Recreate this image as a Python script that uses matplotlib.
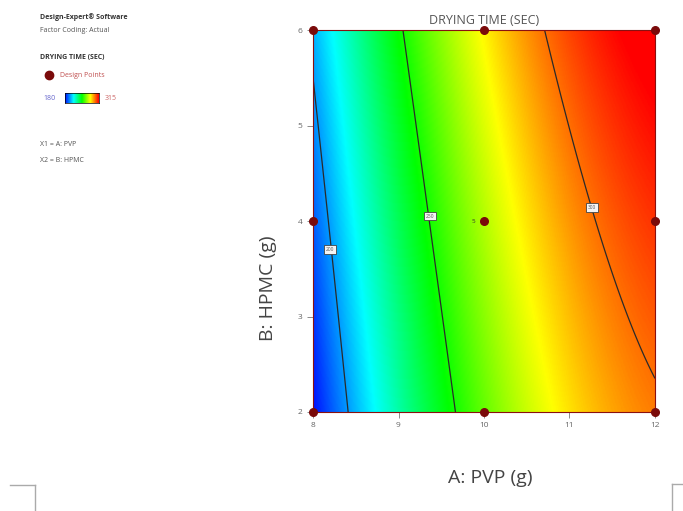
import numpy as np
import matplotlib
matplotlib.use("Agg")
import matplotlib.pyplot as plt
from matplotlib.colors import LinearSegmentedColormap, Normalize
from matplotlib.lines import Line2D

# ---- data ----
pvp_range = [8, 12]
hpmc_range = [2, 6]
x_ticks = [8, 9, 10, 11, 12]
y_ticks = [2, 3, 4, 5, 6]
# response surface coefficients (coded units): b0, A, B, AB, A^2, B^2
coef = [270.9, 58.5, 10.86, -0.68, -21.3, 0.43]
contour_levels = [200, 250, 300]
label_pos = [(8.2, 3.7), (9.37, 4.05), (11.26, 4.14)]
design_A = [8, 8, 8, 10, 10, 10, 12, 12, 12]
design_B = [2, 4, 6, 2, 4, 6, 2, 4, 6]
resp_min, resp_max = 180, 315

plt.rcParams['font.family'] = ['Open Sans', 'DejaVu Sans']

fig = plt.figure(figsize=(6.83, 5.11), dpi=100)
ax = fig.add_axes([313/683, 1-412/511, (655-313)/683, (412-30)/511])

A = np.linspace(pvp_range[0], pvp_range[1], 300)
B = np.linspace(hpmc_range[0], hpmc_range[1], 300)
AA, BB = np.meshgrid(A, B)
a = (AA - 10) / 2
b = (BB - 4) / 2
Y = (coef[0] + coef[1]*a + coef[2]*b + coef[3]*a*b + coef[4]*a**2 + coef[5]*b**2)

cmap = LinearSegmentedColormap.from_list(
    "de", ["#0010ff", "#00ffff", "#00ff00", "#ffff00", "#ff0000"])
norm = Normalize(resp_min, resp_max)
ax.imshow(np.clip(Y, resp_min, resp_max), origin='lower', extent=[8, 12, 2, 6],
          aspect='auto', cmap=cmap, norm=norm, interpolation='bilinear')
cs = ax.contour(AA, BB, Y, levels=contour_levels, colors='#2a2a2a', linewidths=0.9)
for lev, (px, py) in zip(contour_levels, label_pos):
    ax.text(px, py, str(lev), fontsize=3.5, color='#555555', ha='center', va='center',
            bbox=dict(boxstyle='square,pad=0.35', fc='#f4f4f4', ec='#444444', lw=0.6))

ax.scatter(design_A, design_B, s=30, color='#7a0a0a', zorder=5, clip_on=False)
ax.text(9.9, 4, "5", fontsize=4.5, color='#333333', ha='right', va='center')

ax.set_xlim(8, 12)
ax.set_ylim(2, 6)
ax.set_xticks(x_ticks)
ax.set_yticks(y_ticks)
ax.tick_params(labelsize=6, colors='#777777', length=4, width=0.6)
ax.set_xticklabels([str(t) for t in x_ticks], color='#666666')
ax.set_yticklabels([str(t) for t in y_ticks], color='#666666')
for s in ax.spines.values():
    s.set_color('#8a1010')
    s.set_linewidth(0.8)
ax.set_title("DRYING TIME (SEC)", fontsize=9, color='#555555', pad=4)

fig.text(490/683, 1-478/511, "A: PVP (g)", fontsize=14, color='#444444', ha='center', va='center')
fig.text(268/683, 1-288/511, "B: HPMC (g)", fontsize=14, color='#444444', ha='center', va='center',
         rotation=90)

# left annotation panel
fig.text(40/683, 1-17/511, "Design-Expert® Software", fontsize=5, weight='bold', color='#333333', va='center')
fig.text(40/683, 1-30/511, "Factor Coding: Actual", fontsize=5, color='#555555', va='center')
fig.text(40/683, 1-57/511, "DRYING TIME (SEC)", fontsize=5, weight='bold', color='#333333', va='center')
fig.add_artist(Line2D([49/683], [1-75/511], marker='o', markersize=6, color='#7a0a0a', linestyle='none'))
fig.text(60/683, 1-75/511, "Design Points", fontsize=5, color='#c05050', va='center')
fig.text(43/683, 1-98/511, str(resp_min), fontsize=5, color='#6666cc', va='center')
cax = fig.add_axes([65/683, 1-103/511, 34/683, 10/511])
cax.imshow(np.linspace(0, 1, 100)[None, :], aspect='auto', cmap=cmap)
cax.set_xticks([]); cax.set_yticks([])
for s in cax.spines.values():
    s.set_linewidth(0.5)
fig.text(105/683, 1-98/511, str(resp_max), fontsize=5, color='#cc6666', va='center')
fig.text(40/683, 1-145/511, "X1 = A: PVP", fontsize=5, color='#555555', va='center')
fig.text(40/683, 1-160/511, "X2 = B: HPMC", fontsize=5, color='#555555', va='center')

# crop marks
fig.add_artist(Line2D([10/683, 35/683], [1-485/511, 1-485/511], color='#aaaaaa', lw=1))
fig.add_artist(Line2D([35/683, 35/683], [1-485/511, 0], color='#aaaaaa', lw=1))
fig.add_artist(Line2D([672/683, 683/683], [1-484/511, 1-484/511], color='#aaaaaa', lw=1))
fig.add_artist(Line2D([672/683, 672/683], [1-484/511, 0], color='#aaaaaa', lw=1))

fig.savefig("out.png", dpi=100)
